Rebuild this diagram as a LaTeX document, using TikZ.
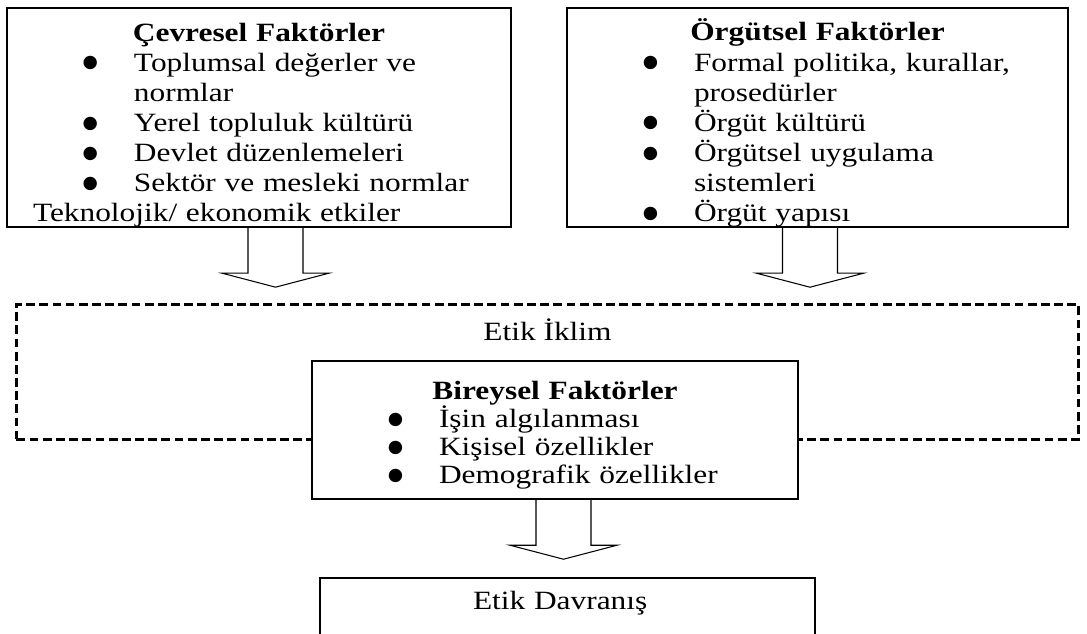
\documentclass[tikz,border=0pt]{standalone}
\usepackage{fontspec}
\setmainfont{Liberation Serif}[FakeStretch=1.19]
\newfontfamily\imfont{DejaVu Sans}
\usetikzlibrary{positioning}

\newcommand{\baslik}[2][0.66cm]{\noindent\makebox[\hsize]{\rule{0pt}{#1}\textbf{#2}}\\}
\newcommand{\madde}[1]{\hspace*{1.515cm}\makebox[1.025cm][l]{\raisebox{1.8pt}{\imfont\fontsize{10}{10}\selectfont ●}}#1}
\newcommand{\devam}[1]{\hspace*{2.54cm}#1}

\begin{document}
\begin{tikzpicture}[
  factor/.style={draw, line width=1.4pt, fill=white, inner xsep=0pt, inner ysep=0pt, align=left},
  iklimbox/.style={draw, line width=1.5pt, dash pattern=on 5pt off 2.5pt, inner sep=0pt},
  pics/blockarrow/.style={code={
    \draw[line width=0.6pt] (-0.55,0) -- (-0.55,-0.9) -- (-1.07,-0.9) -- (0,-1.18) -- (1.07,-0.9) -- (0.55,-0.9) -- (0.55,0);
  }},
  font=\fontsize{15}{17.1}\selectfont
]
  \useasboundingbox (0,0) rectangle (21.74,12.68);
  \clip (0,0) rectangle (21.74,12.68);

  \node[factor, text width=10.08cm, minimum height=4.26cm] (cevre) at (5.18,10.33) {%
    \baslik{Çevresel Faktörler}
    \madde{Toplumsal değerler ve}\\
    \devam{normlar}\\
    \madde{Yerel topluluk kültürü}\\
    \madde{Devlet düzenlemeleri}\\
    \madde{Sektör ve mesleki normlar}\\
    \hspace*{0.52cm}Teknolojik/ ekonomik etkiler};
  \node[factor, text width=10.02cm, minimum height=4.26cm] (orgut) at (16.35,10.33) {%
    \baslik{Örgütsel Faktörler}
    \madde{Formal politika, kurallar,}\\
    \devam{prosedürler}\\
    \madde{Örgüt kültürü}\\
    \madde{Örgütsel uygulama}\\
    \devam{sistemleri}\\
    \madde{Örgüt yapısı}};

  \node[iklimbox, anchor=north, minimum width=21.24cm, text height=0.72cm, text depth=1.98cm] (iklim) at (10.95,6.62) {Etik İklim};

  \node[factor, text width=9.72cm, minimum height=2.76cm, font=\fontsize{15}{15.9}\selectfont] (birey) at (11.1,4.08) {%
    \baslik[0.58cm]{Bireysel Faktörler}
    \madde{İşin algılanması}\\
    \madde{Kişisel özellikler}\\
    \madde{Demografik özellikler}};

  \node[factor, anchor=north, text width=9.9cm, text height=0.62cm, text depth=2cm] (davranis) at (11.35,1.14) {\hspace*{3.06cm}Etik Davranış};

  \pic at ([xshift=0.33cm]cevre.south) {blockarrow};
  \pic at ([xshift=-0.15cm]orgut.south) {blockarrow};
  \pic at ([xshift=0.17cm]birey.south) {blockarrow};
\end{tikzpicture}
\end{document}
